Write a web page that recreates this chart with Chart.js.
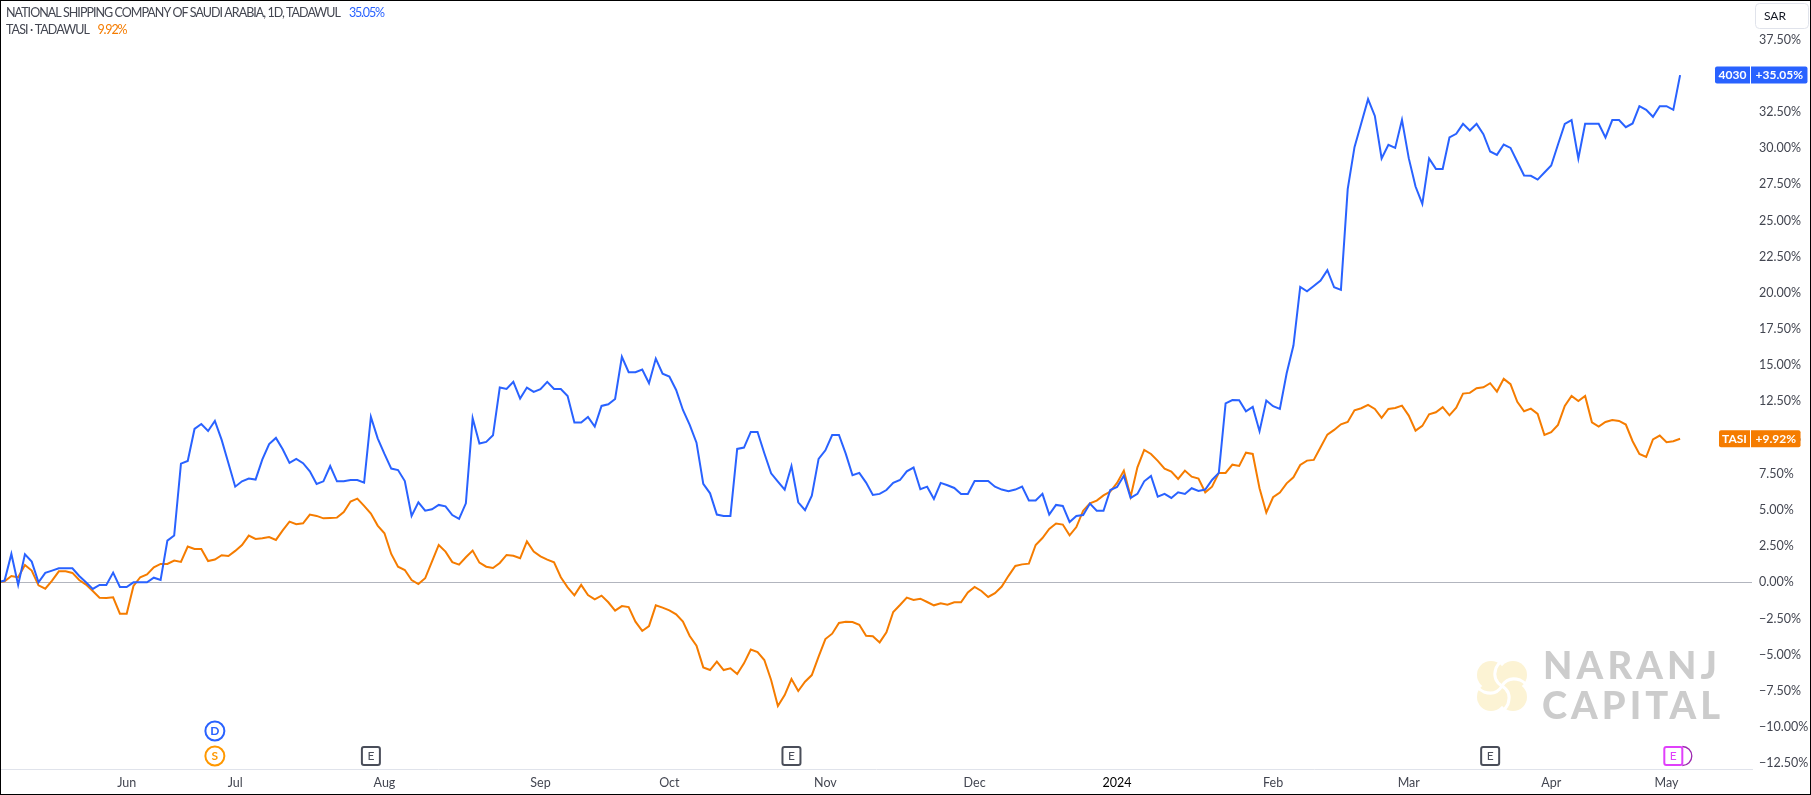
<!DOCTYPE html>
<html>
<head>
<meta charset="utf-8">
<title>4030 vs TASI</title>
<script src="https://cdn.jsdelivr.net/npm/chart.js@4/dist/chart.umd.min.js"></script>
<style>
    html, body { margin: 0; padding: 0; background: #fff; overflow: hidden; }
    canvas { display: block; }
</style>
</head>
<body>
<canvas id="compareChart" width="1811" height="795"></canvas>
<script>
// % change since the first day, one value per trading day
const nscValues = [
    0, 0.12, 1.96, -0.18, 1.94, 1.43, 0, 0.65, 0.81, 0.97,
    0.97, 0.97, 0.44, 0, -0.46, -0.18, -0.18, 0.67, -0.32, -0.32,
    0, 0, 0, 0.32, 0.16, 2.88, 3.23, 8.20, 8.39, 10.60,
    10.94, 10.46, 11.15, 9.84, 8.23, 6.61, 6.98, 7.17, 7.10, 8.50,
    9.56, 9.98, 9.19, 8.25, 8.53, 8.23, 7.67, 6.80, 6.98, 8.04,
    6.98, 6.98, 7.07, 7.07, 6.89, 11.43, 9.95, 8.87, 7.86, 7.76,
    7.00, 4.59, 5.53, 4.95, 5.05, 5.35, 5.25, 4.65, 4.38, 5.46,
    11.34, 9.59, 9.70, 10.16, 13.46, 13.36, 13.85, 12.70, 13.46, 13.16,
    13.34, 13.85, 13.36, 13.36, 12.88, 11.04, 11.04, 11.43, 10.76, 12.19,
    12.30, 12.67, 15.58, 14.52, 14.52, 14.70, 13.76, 15.46, 14.42, 14.22,
    13.29, 11.91, 10.88, 9.65, 6.80, 6.15, 4.68, 4.59, 4.59, 9.22,
    9.31, 10.39, 10.39, 8.92, 7.53, 6.96, 6.41, 8.04, 5.53, 4.98,
    5.99, 8.53, 9.12, 10.18, 10.18, 8.89, 7.40, 7.56, 6.89, 6.04,
    6.11, 6.38, 6.87, 7.07, 7.67, 7.93, 6.43, 6.61, 5.76, 6.87,
    6.71, 6.52, 6.11, 6.11, 7.00, 7.00, 7.00, 6.61, 6.41, 6.29,
    6.41, 6.61, 5.65, 5.65, 6.11, 4.68, 5.35, 5.28, 4.17, 4.59,
    4.65, 5.44, 4.95, 4.95, 6.38, 6.59, 7.37, 5.83, 6.11, 6.98,
    7.35, 5.92, 6.11, 5.83, 6.22, 6.11, 6.50, 6.31, 6.41, 7.07,
    7.56, 12.37, 12.60, 12.58, 11.82, 12.12, 10.44, 12.56, 12.17, 11.98,
    14.45, 16.36, 20.41, 20.11, 20.48, 20.85, 21.57, 20.39, 20.21, 27.17,
    30.07, 31.73, 33.39, 32.23, 29.29, 30.23, 30.02, 31.96, 29.31, 27.35,
    26.15, 29.29, 28.57, 28.57, 30.74, 30.99, 31.68, 31.22, 31.68, 30.97,
    29.77, 29.54, 30.25, 30.02, 29.06, 28.11, 28.09, 27.83, 28.32, 28.80,
    30.25, 31.68, 31.94, 29.29, 31.68, 31.68, 31.68, 30.74, 31.94, 31.94,
    31.45, 31.71, 32.90, 32.65, 32.17, 32.90, 32.90, 32.65, 35.05
];
const tasiValues = [
    0, 0.07, 0.44, 0.35, 1.20, 0.81, -0.21, -0.44, 0.12, 0.76,
    0.76, 0.65, 0.16, -0.16, -0.60, -1.06, -1.08, -1.04, -2.17, -2.17,
    -0.25, 0.35, 0.55, 1.04, 1.27, 1.27, 1.50, 1.41, 2.47, 2.30,
    2.30, 1.47, 1.57, 1.87, 1.82, 2.17, 2.58, 3.23, 3.00, 3.04,
    3.13, 2.93, 3.59, 4.19, 4.01, 4.08, 4.68, 4.59, 4.42, 4.45,
    4.47, 4.86, 5.58, 5.78, 5.28, 4.75, 3.92, 3.39, 1.96, 1.08,
    0.85, 0.16, -0.12, 0.28, 1.43, 2.58, 2.12, 1.40, 1.22, 1.73,
    2.19, 1.36, 1.08, 0.99, 1.34, 1.89, 1.84, 1.66, 2.83, 2.12,
    1.80, 1.57, 1.38, 0.35, -0.35, -0.90, -0.18, -0.88, -1.18, -0.92,
    -1.38, -1.96, -1.64, -1.71, -2.72, -3.36, -3.02, -1.59, -1.75, -1.94,
    -2.21, -2.72, -3.71, -4.38, -5.88, -6.06, -5.48, -6.06, -5.94, -6.34,
    -5.60, -4.65, -4.82, -5.37, -6.75, -8.55, -7.79, -6.68, -7.51, -6.87,
    -6.41, -5.14, -3.92, -3.55, -2.81, -2.72, -2.74, -2.93, -3.69, -3.73,
    -4.15, -3.45, -2.05, -1.57, -1.06, -1.22, -1.13, -1.36, -1.59, -1.45,
    -1.54, -1.38, -1.38, -0.70, -0.32, -0.60, -1.01, -0.75, -0.29, 0.45,
    1.13, 1.24, 1.29, 2.58, 3.06, 3.69, 4.06, 3.99, 3.25, 3.82,
    4.95, 5.46, 5.65, 6.01, 6.27, 6.87, 7.72, 5.92, 7.95, 9.15,
    8.87, 8.39, 7.86, 7.65, 7.14, 7.72, 7.30, 7.17, 6.22, 6.61,
    7.56, 7.56, 8.13, 8.04, 8.96, 8.87, 6.50, 4.82, 5.88, 6.20,
    6.84, 7.26, 8.11, 8.41, 8.46, 9.33, 10.21, 10.53, 10.92, 11.08,
    11.89, 12.03, 12.26, 11.98, 11.36, 11.98, 12.05, 12.21, 11.52, 10.48,
    10.81, 11.61, 11.75, 12.10, 11.54, 12.07, 13.04, 13.09, 13.41, 13.48,
    13.76, 13.18, 14.06, 13.69, 12.47, 11.82, 12.00, 11.64, 10.18, 10.37,
    10.88, 12.19, 12.88, 12.53, 12.88, 11.06, 10.76, 11.08, 11.22, 11.15,
    10.90, 9.75, 8.87, 8.66, 9.88, 10.14, 9.68, 9.75, 9.92
];

// Time axis: trading-day index where each month label sits
const monthDays = [19, 35, 57, 80, 99, 122, 144, 165, 188, 208, 229, 246];
const monthLabels = ["Jun", "Jul", "Aug", "Sep", "Oct", "Nov", "Dec", "2024", "Feb", "Mar", "Apr", "May"];

const percentTicks = [-12.5, -10, -7.5, -5, -2.5, 0, 2.5, 5, 7.5, 10, 12.5, 15, 17.5, 20, 22.5, 25,
    27.5, 30, 32.5, 35, 37.5];

// Dividend, split and earnings flags under the lines
const dividendDays = [32];
const splitDays = [32];
const earningsDays = [55, 117, 220];
const nextEarningsDays = [247];

const BLUE = "#2962ff";
const ORANGE = "#f57c00";
const TEXT_DARK = "#131722";
const TEXT_GREY = "#434651";
const FONT = 'Lato, sans-serif';

function roundBox(ctx, x, y, w, h, r) {
    ctx.beginPath();
    ctx.roundRect(x, y, w, h, r);
}

// Text fitted to a target width through letter spacing
function spacedText(ctx, text, x, y, width) {
    ctx.letterSpacing = "0px";
    let natural = ctx.measureText(text).width;
    ctx.letterSpacing = ((width - natural) / (text.length - 1)) + "px";
    ctx.fillText(text, x, y);
    ctx.letterSpacing = "0px";
}

function drawBadge(ctx, chart, symbol, value, color, symbolLeft) {
    let y = chart.scales.y.getPixelForValue(value);
    let valueText = "+" + value.toFixed(2) + "%";
    ctx.font = "bold 12px " + FONT;
    let valueWidth = ctx.measureText(valueText).width + 9;
    ctx.fillStyle = color;
    roundBox(ctx, symbolLeft, y - 8.5, 1750 - symbolLeft, 17, [2, 0, 0, 2]);
    ctx.fill();
    roundBox(ctx, 1751, y - 8.5, valueWidth, 17, [0, 2, 2, 0]);
    ctx.fill();
    ctx.fillStyle = "#fff";
    ctx.textAlign = "center";
    ctx.textBaseline = "middle";
    ctx.fillText(symbol, (symbolLeft + 1750) / 2, y);
    ctx.fillText(valueText, 1751 + valueWidth / 2, y);
}

function drawCircleFlag(ctx, x, y, letter, color) {
    ctx.beginPath();
    ctx.arc(x, y, 9.5, 0, Math.PI * 2);
    ctx.fillStyle = "#fff";
    ctx.fill();
    ctx.strokeStyle = color;
    ctx.lineWidth = 2;
    ctx.stroke();
    ctx.fillStyle = color;
    ctx.font = "bold 12px " + FONT;
    ctx.textAlign = "center";
    ctx.textBaseline = "middle";
    ctx.fillText(letter, x, y);
}

function drawSquareFlag(ctx, x, y, color) {
    roundBox(ctx, x - 9, y - 9, 18, 18, 2);
    ctx.fillStyle = "#fff";
    ctx.fill();
    ctx.strokeStyle = color;
    ctx.lineWidth = 2;
    ctx.stroke();
    ctx.fillStyle = color;
    ctx.font = "12px " + FONT;
    ctx.textAlign = "center";
    ctx.textBaseline = "middle";
    ctx.fillText("E", x, y);
}

function drawLogo(ctx, cx, cy) {
    ctx.save();
    ctx.translate(cx, cy);
    ctx.fillStyle = "#fcf3d4";
    for (let k = 0; k < 4; k++) {
        ctx.rotate(Math.PI / 2);
        ctx.beginPath();
        ctx.arc(11, -11, 14, 0, Math.PI * 2);
        ctx.fill();
    }
    ctx.strokeStyle = "#fff";
    ctx.lineWidth = 3;
    for (let k = 0; k < 4; k++) {
        ctx.rotate(Math.PI / 2);
        ctx.beginPath();
        ctx.moveTo(0, 0);
        ctx.quadraticCurveTo(-10, -6, -6, -18);
        ctx.quadraticCurveTo(-3, -24, 3, -28);
        ctx.stroke();
    }
    ctx.restore();
}

// Everything TradingView paints around the lines
const decorations = {
    id: "decorations",
    beforeDatasetsDraw(chart) {
        const ctx = chart.ctx;
        ctx.save();
        drawLogo(ctx, 1502, 686);
        ctx.fillStyle = "#cccccc";
        ctx.font = "900 38px " + FONT;
        ctx.textAlign = "left";
        ctx.textBaseline = "alphabetic";
        spacedText(ctx, "NARANJ", 1543, 679, 174);
        spacedText(ctx, "CAPITAL", 1542, 719, 178);
        ctx.restore();
    },
    afterDraw(chart) {
        const ctx = chart.ctx;
        const x = chart.scales.x;
        ctx.save();

        // legend
        ctx.font = "12.5px " + FONT;
        ctx.textAlign = "left";
        ctx.textBaseline = "middle";
        ctx.fillStyle = TEXT_GREY;
        spacedText(ctx, "NATIONAL SHIPPING COMPANY OF SAUDI ARABIA, 1D, TADAWUL", 6, 13, 335);
        spacedText(ctx, "TASI · TADAWUL", 6, 30, 84);
        ctx.fillStyle = BLUE;
        spacedText(ctx, "35.05%", 349, 13, 36);
        ctx.fillStyle = ORANGE;
        spacedText(ctx, "9.92%", 97.5, 30, 30);

        // currency box
        roundBox(ctx, 1755.5, 3.5, 53, 25, 4);
        ctx.strokeStyle = "#e0e3eb";
        ctx.lineWidth = 1;
        ctx.stroke();
        ctx.fillStyle = TEXT_DARK;
        ctx.font = "12px " + FONT;
        ctx.fillText("SAR", 1764, 16);

        // flags
        dividendDays.forEach(d => drawCircleFlag(ctx, x.getPixelForValue(d), 731, "D", BLUE));
        splitDays.forEach(d => drawCircleFlag(ctx, x.getPixelForValue(d), 756, "S", "#ff9800"));
        earningsDays.forEach(d => drawSquareFlag(ctx, x.getPixelForValue(d), 756, "#4a4e5a"));
        nextEarningsDays.forEach(d => {
            let px = x.getPixelForValue(d);
            ctx.beginPath();
            ctx.arc(px + 9, 756, 9.5, -Math.PI / 2, Math.PI / 2);
            ctx.strokeStyle = "#9c27b0";
            ctx.lineWidth = 1.3;
            ctx.stroke();
            drawSquareFlag(ctx, px, 756, "#e040fb");
        });

        // last value badges
        drawBadge(ctx, chart, "4030", nscValues[nscValues.length - 1], BLUE, 1715);
        drawBadge(ctx, chart, "TASI", tasiValues[tasiValues.length - 1], ORANGE, 1719);

        // outer frame
        ctx.strokeStyle = "#000";
        ctx.lineWidth = 1;
        ctx.strokeRect(0.5, 0.5, 1810, 794);
        ctx.restore();
    }
};

// Chart.js keeps room for half a tick label at the scale ends, TradingView does not
function dropScalePadding(scale) {
    scale.paddingTop = 0;
    scale.paddingBottom = 0;
    scale.paddingLeft = 0;
    scale.paddingRight = 0;
}

const ctx = document.getElementById("compareChart").getContext("2d");
const compareChart = new Chart(ctx, {
    type: "line",
    data: {
        labels: nscValues.map((v, i) => i),
        datasets: [
            { label: "4030", data: nscValues, borderColor: BLUE, borderWidth: 2, pointRadius: 0, tension: 0 },
            { label: "TASI", data: tasiValues, borderColor: ORANGE, borderWidth: 2, pointRadius: 0, tension: 0 }
        ]
    },
    options: {
        responsive: false,
        animation: false,
        layout: { padding: 0 },
        plugins: {
            legend: { display: false },
            tooltip: { enabled: false }
        },
        scales: {
            x: {
                type: "linear",
                min: 0.324,
                max: 258.6,
                afterFit: function(scale) { scale.height = 26; dropScalePadding(scale); },
                afterBuildTicks: function(scale) {
                    scale.ticks = monthDays.map(d => ({ value: d }));
                },
                grid: { display: false, drawTicks: false },
                border: { display: true, color: "#e0e3eb", width: 1 },
                ticks: {
                    autoSkip: false,
                    maxRotation: 0,
                    padding: 6,
                    font: { family: FONT, size: 12.5 },
                    color: function(c) { return monthDays[c.index] === 165 ? "#000" : TEXT_GREY; },
                    callback: function(value) { return monthLabels[monthDays.indexOf(value)]; }
                }
            },
            y: {
                position: "right",
                min: -12.9,
                max: 40.24,
                afterFit: function(scale) { scale.width = 59; dropScalePadding(scale); },
                afterBuildTicks: function(scale) {
                    scale.ticks = percentTicks.map(v => ({ value: v }));
                },
                border: { display: false },
                grid: {
                    drawTicks: false,
                    lineWidth: 1,
                    color: function(c) { return c.tick && c.tick.value === 0 ? "#b2b5be" : "rgba(0,0,0,0)"; }
                },
                ticks: {
                    padding: 7,
                    autoSkip: false,
                    font: { family: FONT, size: 12.5 },
                    color: TEXT_GREY,
                    callback: function(value) {
                        return (value < 0 ? "\u2212" : "") + Math.abs(value).toFixed(2) + "%";
                    }
                }
            }
        }
    },
    plugins: [decorations]
});
</script>
</body>
</html>
